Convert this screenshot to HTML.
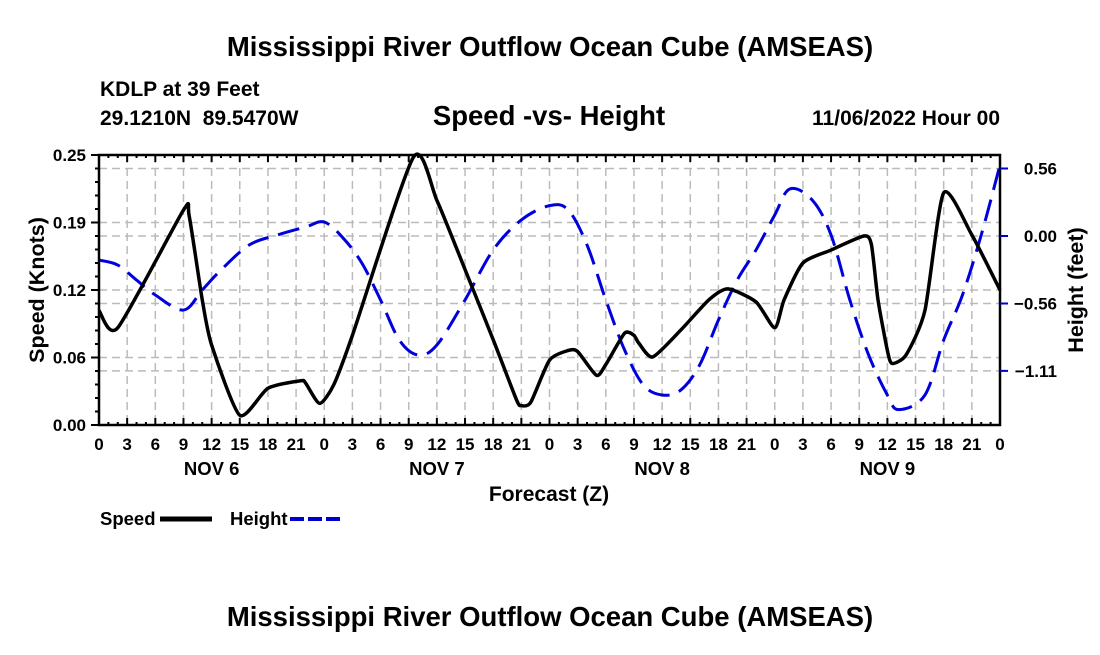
<!DOCTYPE html>
<html><head><meta charset="utf-8"><style>
body{margin:0;background:#fff;}
svg text{font-family:"Liberation Sans",Arial,sans-serif;font-weight:bold;}
</style></head><body>
<svg id="c" width="1100" height="650" viewBox="0 0 1100 650">
<rect width="1100" height="650" fill="#fff"/>
<text x="550" y="56" font-size="27.5" text-anchor="middle">Mississippi River Outflow Ocean Cube (AMSEAS)</text>
<text x="100" y="96" font-size="21">KDLP at 39 Feet</text>
<text x="100" y="125" font-size="21" xml:space="preserve">29.1210N  89.5470W</text>
<text x="549" y="125" font-size="27.5" text-anchor="middle">Speed -vs- Height</text>
<text x="1000" y="125" font-size="21" text-anchor="end">11/06/2022 Hour 00</text>
<g id="grid"></g>
<g id="series"></g>
<g id="axes"></g>
<text x="549" y="501" font-size="21" text-anchor="middle">Forecast (Z)</text>
<text transform="translate(44,290) rotate(-90)" font-size="21.5" text-anchor="middle">Speed (Knots)</text>
<text transform="translate(1083,290) rotate(-90)" font-size="21.5" text-anchor="middle">Height (feet)</text>
<g>
<text x="100" y="525" font-size="18.5">Speed</text>
<line x1="160" y1="519" x2="212" y2="519" stroke="#000" stroke-width="5"/>
<text x="230" y="525" font-size="18.5">Height</text>
<line x1="290" y1="519" x2="342" y2="519" stroke="#0000cc" stroke-width="4" stroke-dasharray="14,4"/>
</g>
<text x="550" y="626" font-size="27.5" text-anchor="middle">Mississippi River Outflow Ocean Cube (AMSEAS)</text>
</svg>
<script>
const speedHours=[0,2,9,9.6,11,12,15,18,21.5,22,23.5,25,27,33.5,36,39,42,44.5,45,46,48,50,51,53,54,56,57,57.5,59,62,65,67,70,72,73,75,78,81.5,82.3,83,84,84.5,86,88,90,93,96];
const speedVals=[0.106,0.090,0.199,0.194,0.116,0.074,0.009,0.034,0.041,0.039,0.020,0.037,0.083,0.248,0.208,0.144,0.079,0.023,0.018,0.021,0.060,0.069,0.068,0.046,0.056,0.085,0.083,0.076,0.063,0.088,0.116,0.126,0.114,0.090,0.116,0.150,0.162,0.175,0.167,0.116,0.069,0.057,0.065,0.106,0.215,0.176,0.125];
const heightHours=[0,2,4,6,9,11,13,16,19,22,24,26,28,30,32,34,36,39,42,45,48,50,52,54,56,58,60,62,64,66,68,70,72,73.6,76,78,80,82,84,85.2,88,90,92,94,96];
const heightVals=[-0.198,-0.239,-0.363,-0.486,-0.610,-0.445,-0.280,-0.074,0.008,0.074,0.115,-0.016,-0.222,-0.527,-0.857,-0.980,-0.898,-0.527,-0.115,0.132,0.250,0.214,-0.074,-0.527,-0.939,-1.227,-1.310,-1.268,-1.062,-0.692,-0.363,-0.115,0.173,0.387,0.296,0.008,-0.527,-0.980,-1.310,-1.430,-1.310,-0.857,-0.486,0.008,0.585];
const xTickLabels=["0","3","6","9","12","15","18","21"];
const dayLabels=["NOV 6","NOV 7","NOV 8","NOV 9"];
const leftTicks=[0,0.0625,0.125,0.1875,0.25];
const leftTickLabels=["0.00","0.06","0.12","0.19","0.25"];
const rightTicks=[0.556,0,-0.556,-1.111];
const rightTickLabels=["0.56","0.00","\u22120.56","\u22121.11"];
const L=99,R=1000,T=155,B=425,HMAX=96;
const sx=h=>L+(R-L)*h/HMAX;
const sy=v=>B-(B-T)*v/0.25;
const hy=v=>236-67.5*v/0.556;
const NS="http://www.w3.org/2000/svg";
function mk(p,tag,a){const e=document.createElementNS(NS,tag);for(const k in a)e.setAttribute(k,a[k]);p.appendChild(e);return e;}
const grid=document.getElementById('grid'),axes=document.getElementById('axes'),ser=document.getElementById('series');
for(let h=3;h<HMAX;h+=3){const l=mk(grid,'line',{x1:sx(h),x2:sx(h),y1:T,y2:B,stroke:'#bbb','stroke-width':1.5,'stroke-dasharray':'8,5'});

}
leftTicks.slice(1,-1).forEach(v=>{const l=mk(grid,'line',{x1:L,x2:R,y1:sy(v),y2:sy(v),stroke:'#bbb','stroke-width':1.5,'stroke-dasharray':'8,5'});

});
rightTicks.forEach(v=>{const l=mk(grid,'line',{x1:L,x2:R,y1:hy(v),y2:hy(v),stroke:'#bbb','stroke-width':1.5,'stroke-dasharray':'8,5'});

});
function smooth(pts,k){let d=`M${pts[0][0]},${pts[0][1]}`;for(let i=0;i<pts.length-1;i++){const p0=pts[Math.max(0,i-1)],p1=pts[i],p2=pts[i+1],p3=pts[Math.min(pts.length-1,i+2)];
d+=`C${p1[0]+(p2[0]-p0[0])*k},${p1[1]+(p2[1]-p0[1])*k} ${p2[0]-(p3[0]-p1[0])*k},${p2[1]-(p3[1]-p1[1])*k} ${p2[0]},${p2[1]}`;}return d;}
const hp=mk(ser,'path',{d:smooth(heightHours.map((h,i)=>[sx(h),hy(heightVals[i])]),1/6),fill:'none',stroke:'#0000dd','stroke-width':3,'stroke-dasharray':'22,10'});


const sp=mk(ser,'path',{d:smooth(speedHours.map((h,i)=>[sx(h),sy(speedVals[i])]),1/9),fill:'none',stroke:'#000','stroke-width':3.5});


const fr=mk(axes,'rect',{x:L,y:T,width:R-L,height:B-T,fill:'none',stroke:'#000','stroke-width':2.5});


for(let h=0;h<=HMAX;h++){const len=h%3==0?7:3;
mk(axes,'line',{x1:sx(h),x2:sx(h),y1:B,y2:B-len,stroke:'#000','stroke-width':2});
mk(axes,'line',{x1:sx(h),x2:sx(h),y1:T,y2:T+len,stroke:'#000','stroke-width':2});
if(h%3==0){const t=mk(axes,'text',{x:sx(h),y:450,'font-size':17,'text-anchor':'middle'});t.textContent=h==HMAX?"0":xTickLabels[(h%24)/3];

}}
dayLabels.forEach((d,i)=>{const t=mk(axes,'text',{x:sx(12+24*i),y:475,'font-size':18.5,'text-anchor':'middle'});t.textContent=d;

});
for(let k=0;k<=20;k++){const v=k*0.0125;const len=k%5==0?8:4;mk(axes,'line',{x1:L-len,x2:L,y1:sy(v),y2:sy(v),stroke:'#000','stroke-width':2});}
leftTicks.forEach((v,i)=>{const t=mk(axes,'text',{x:86,y:sy(v)+6,'font-size':17,'text-anchor':'end'});t.textContent=leftTickLabels[i];

});
rightTicks.forEach((v,i)=>{mk(axes,'line',{x1:R,x2:R+8,y1:hy(v),y2:hy(v),stroke:'#0000cc','stroke-width':2});
const t=mk(axes,'text',{x:1057,y:hy(v)+6,'font-size':17,'text-anchor':'end'});t.textContent=rightTickLabels[i];

});
</script>
</body></html>
